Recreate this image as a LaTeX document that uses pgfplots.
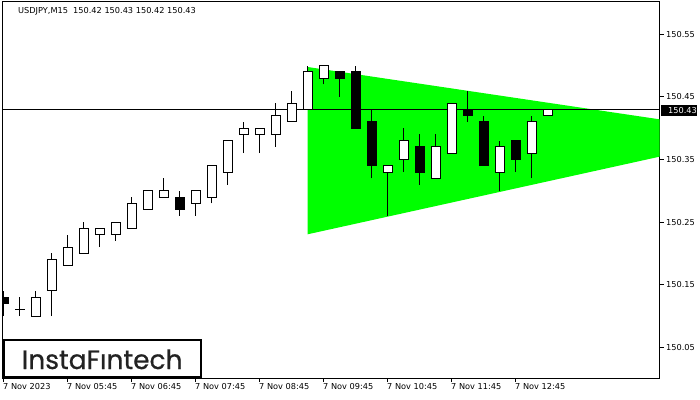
\documentclass[border=0pt]{standalone}
\usepackage{pgfplots}
\pgfplotsset{compat=1.18}
\usepackage{pgfplotstable}
\usepackage{fontspec}
\setmainfont{DejaVu Sans}
\newfontfamily\logofont[FakeBold=0.6]{Poppins}
\definecolor{limegreen}{RGB}{0,255,0}
\definecolor{logotext}{RGB}{34,34,34}

% bullish (and doji) candles: index, open, high, low, close
\pgfplotstableread{
x o h l c
1 150.110 150.13 150.10 150.1102
2 150.10 150.14 150.10 150.13
3 150.14 150.20 150.10 150.19
4 150.18 150.23 150.18 150.21
5 150.20 150.25 150.20 150.24
6 150.23 150.24 150.21 150.24
7 150.23 150.25 150.22 150.25
8 150.24 150.29 150.24 150.28
9 150.27 150.30 150.27 150.30
10 150.29 150.32 150.29 150.30
12 150.28 150.30 150.26 150.30
13 150.29 150.34 150.28 150.34
14 150.33 150.38 150.31 150.38
15 150.39 150.41 150.36 150.40
16 150.39 150.40 150.36 150.40
17 150.39 150.44 150.37 150.42
18 150.41 150.46 150.41 150.44
19 150.43 150.50 150.43 150.49
20 150.48 150.50 150.47 150.50
24 150.33 150.34 150.26 150.34
25 150.35 150.40 150.33 150.38
27 150.32 150.39 150.32 150.37
28 150.36 150.44 150.36 150.44
31 150.33 150.38 150.30 150.37
33 150.36 150.42 150.32 150.41
34 150.42 150.43 150.42 150.43
}\whitec

% bearish candles: index, open, high, low, close
\pgfplotstableread{
x o h l c
0 150.13 150.14 150.10 150.12
11 150.29 150.30 150.26 150.27
21 150.49 150.49 150.45 150.48
22 150.49 150.50 150.40 150.40
23 150.41 150.43 150.32 150.34
26 150.37 150.39 150.31 150.33
29 150.43 150.46 150.41 150.42
30 150.41 150.42 150.34 150.34
32 150.38 150.38 150.33 150.35
}\blackc

\pgfplotsset{candleaxis/.style={scale only axis, width=657bp, height=376bp,
  xmin=-0.0625, xmax=41, ymin=150.001, ymax=150.6016,
  at={(0,0)}, anchor=south west}}

\begin{document}
\begin{tikzpicture}[font=\fontsize{8.2bp}{9.8bp}\selectfont]
\path[use as bounding box] (-2.5bp,-22bp) rectangle (697.5bp,378bp);

\begin{axis}[candleaxis,
  axis line style={black, line width=1bp},
  tick align=outside, major tick length=4bp,
  tick style={black, line width=1bp},
  xtick pos=bottom, ytick pos=right,
  xtick={0,4,8,12,16,20,24,28,32},
  xticklabels={7 Nov 2023,7 Nov 05:45,7 Nov 06:45,7 Nov 07:45,7 Nov 08:45,7 Nov 09:45,7 Nov 10:45,7 Nov 11:45,7 Nov 12:45},
  ytick={150.05,150.15,150.25,150.35,150.45,150.55},
  yticklabels={150.05,150.15,150.25,150.35,150.45,150.55},
  xticklabel style={anchor=north west, inner sep=0pt, xshift=-0.5bp, yshift=-1bp},
  yticklabel style={anchor=west, inner sep=0pt, xshift=2.5bp},
  tick label style={font=\fontsize{8.2bp}{9.8bp}\selectfont},
]
\addplot[fill=limegreen, draw=none] coordinates {(19,150.4978) (41,150.4142) (41,150.3545) (19,150.2305)} -- cycle;
\addplot[black, line width=1bp] coordinates {(-0.0625,150.43) (41,150.43)};
\addplot[draw=none, mark=none, error bars/.cd, y dir=plus, y explicit, error mark=none,
  error bar style={draw=black, solid, line width=1bp}]
  table[x=x, y=l, y error expr=\thisrow{h}-\thisrow{l}] {\whitec};
\addplot[draw=none, mark=none, error bars/.cd, y dir=plus, y explicit, error mark=none,
  error bar style={draw=black, solid, line width=1bp}]
  table[x=x, y=l, y error expr=\thisrow{h}-\thisrow{l}] {\blackc};
\end{axis}

\begin{axis}[candleaxis, hide axis, ybar stacked, bar width=9bp]
\addplot[draw=none, fill=none] table[x=x, y=o] {\whitec};
\addplot[draw=black, fill=white, line width=1bp] table[x=x, y expr=\thisrow{c}-\thisrow{o}] {\whitec};
\end{axis}

\begin{axis}[candleaxis, hide axis, ybar stacked, bar width=9bp]
\addplot[draw=none, fill=none] table[x=x, y=c] {\blackc};
\addplot[draw=black, fill=black, line width=1bp] table[x=x, y expr=\thisrow{o}-\thisrow{c}] {\blackc};
\end{axis}

% title
\node[anchor=base west, inner sep=0pt] at (15.5bp,364bp) {USDJPY,M15\ \ 150.42 150.43 150.42 150.43};
% current price label
\fill[black] (658.5bp,262.3bp) rectangle (694.2bp,273bp);
\node[anchor=west, inner sep=0pt, text=white] at (665.5bp,267.6bp) {150.43};
% logo
\draw[black, line width=2bp, fill=white] (1.2bp,0.7bp) rectangle (198.2bp,37.7bp);
\node[anchor=base, inner sep=0pt, text=logotext] at (99.7bp,9bp) {\logofont\fontsize{26.5bp}{28bp}\selectfont InstaF\char"0131 ntech};
\end{tikzpicture}
\end{document}
